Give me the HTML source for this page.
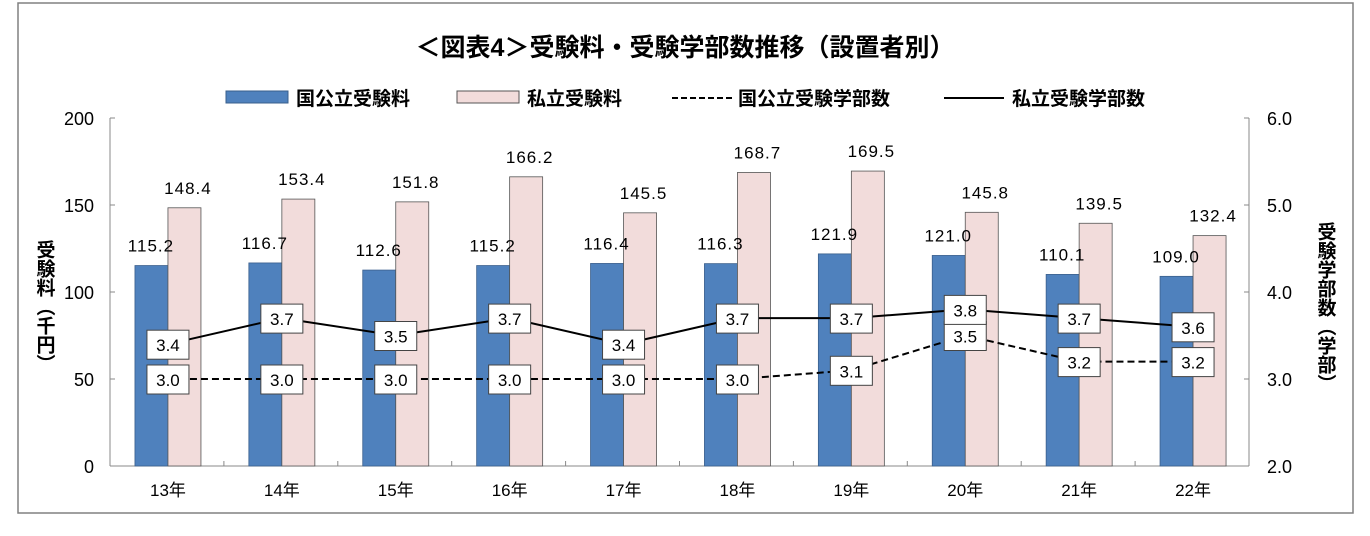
<!DOCTYPE html>
<html><head><meta charset="utf-8"><style>
body{margin:0;background:#fff;}
svg text{font-family:"Liberation Sans","Noto Sans CJK JP",sans-serif;}
</style></head><body>
<svg id="chart" width="1370" height="531" xmlns="http://www.w3.org/2000/svg">
<rect x="18" y="3" width="1335" height="510" fill="#fff" stroke="#808080" stroke-width="1.5"/>
<text x="685" y="56" text-anchor="middle" font-size="25" font-weight="bold">＜図表4＞受験料・受験学部数推移（設置者別）</text>
<g id="legend"></g>
<g id="plot"></g>
</svg>
<script>
const categories=["13年","14年","15年","16年","17年","18年","19年","20年","21年","22年"];
const publicFee=[115.2,116.7,112.6,115.2,116.4,116.3,121.9,121.0,110.1,109.0];
const privateFee=[148.4,153.4,151.8,166.2,145.5,168.7,169.5,145.8,139.5,132.4];
const publicDept=[3.0,3.0,3.0,3.0,3.0,3.0,3.1,3.5,3.2,3.2];
const privateDept=[3.4,3.7,3.5,3.7,3.4,3.7,3.7,3.8,3.7,3.6];
const leftTicks=[0,50,100,150,200];
const rightTicks=[2.0,3.0,4.0,5.0,6.0];
const NS="http://www.w3.org/2000/svg";
const L=110,R=1249,T=118,B=466;
const yL=v=>B-(v/200)*(B-T);
const yR=v=>B-((v-2)/4)*(B-T);
const gw=(R-L)/categories.length;
const xc=i=>L+gw*(i+0.5)+1;
const plot=document.getElementById('plot');
function mk(tag,a,p){const e=document.createElementNS(NS,tag);for(const k in a)e.setAttribute(k,a[k]);(p||plot).appendChild(e);return e;}
let e=mk('line',{x1:L,y1:T,x2:L,y2:B,stroke:'#888'});


e=mk('line',{x1:R,y1:T,x2:R,y2:B,stroke:'#888'});


e=mk('line',{x1:L,y1:B,x2:R,y2:B,stroke:'#888'});


leftTicks.forEach(v=>{
 mk('line',{x1:L,y1:yL(v),x2:L+5,y2:yL(v),stroke:'#888'});
 const t=mk('text',{x:L-16,y:yL(v)+7,'text-anchor':'end','font-size':18});t.textContent=v;
 
 
});
rightTicks.forEach(v=>{
 mk('line',{x1:R-5,y1:yR(v),x2:R,y2:yR(v),stroke:'#888'});
 const t=mk('text',{x:R+18,y:yR(v)+7,'font-size':18});t.textContent=v.toFixed(1);
 
 
});
for(let i=1;i<categories.length;i++) mk('line',{x1:L+gw*i,y1:B-5,x2:L+gw*i,y2:B,stroke:'#888'});
const lt=mk('text',{x:44,y:240,'font-size':19,'font-weight':'bold','writing-mode':'tb','glyph-orientation-vertical':0});
lt.textContent='受験料（千円）';


const rt=mk('text',{x:1325,y:222,'font-size':19,'font-weight':'bold','writing-mode':'tb','glyph-orientation-vertical':0});
rt.textContent='受験学部数（学部）';


categories.forEach((c,i)=>{
 const x=xc(i);
 let b=mk('rect',{x:x-33,y:yL(publicFee[i]),width:33,height:B-yL(publicFee[i]),fill:'#4f81bd',stroke:'#3a5f8c','stroke-width':0.8});
 
 
 b=mk('rect',{x:x,y:yL(privateFee[i]),width:33,height:B-yL(privateFee[i]),fill:'#f2dcdb',stroke:'#555','stroke-width':0.8});
 
 
 let t=mk('text',{x:x-17,y:yL(publicFee[i])-14,'text-anchor':'middle','font-size':17,'letter-spacing':1});t.textContent=publicFee[i].toFixed(1);
 
 
 t=mk('text',{x:x+20,y:yL(privateFee[i])-14,'text-anchor':'middle','font-size':17,'letter-spacing':1});t.textContent=privateFee[i].toFixed(1);
 
 
 t=mk('text',{x:x,y:B+30,'text-anchor':'middle','font-size':17});t.textContent=c;
 
 
});
function line(arr,dash,name){
 const a={points:arr.map((v,i)=>xc(i)+','+yR(v)).join(' '),fill:'none',stroke:'#000','stroke-width':2};
 if(dash) a['stroke-dasharray']=dash;
 const p=mk('polyline',a);
 
 
}
line(publicDept,'7,4','line-public-dept');
line(privateDept,null,'line-private-dept');
function boxes(arr,name){
 arr.forEach((v,i)=>{
  const g=mk('g',{});
  
  
  mk('rect',{x:xc(i)-21,y:yR(v)-14,width:42,height:29,fill:'#fff',stroke:'#444','stroke-width':1},g);
  const t=mk('text',{x:xc(i),y:yR(v)+7,'text-anchor':'middle','font-size':17},g);t.textContent=v.toFixed(1);
 });
}
boxes(publicDept,'public-dept-label');
boxes(privateDept,'private-dept-label');
const lg=document.getElementById('legend');
let r=mk('rect',{x:226,y:91,width:62,height:12,fill:'#4f81bd',stroke:'#3a5f8c'},lg);


let tt=mk('text',{x:296,y:105,'font-size':19,'font-weight':'bold'},lg);tt.textContent='国公立受験料';


r=mk('rect',{x:457,y:91,width:62,height:12,fill:'#f2dcdb',stroke:'#555'},lg);


tt=mk('text',{x:527,y:105,'font-size':19,'font-weight':'bold'},lg);tt.textContent='私立受験料';


r=mk('line',{x1:672,y1:98,x2:732,y2:98,stroke:'#000','stroke-width':2,'stroke-dasharray':'6,3'},lg);


tt=mk('text',{x:738,y:105,'font-size':19,'font-weight':'bold'},lg);tt.textContent='国公立受験学部数';


r=mk('line',{x1:944,y1:98,x2:1004,y2:98,stroke:'#000','stroke-width':2},lg);


tt=mk('text',{x:1012,y:105,'font-size':19,'font-weight':'bold'},lg);tt.textContent='私立受験学部数';


</script>
</body></html>
